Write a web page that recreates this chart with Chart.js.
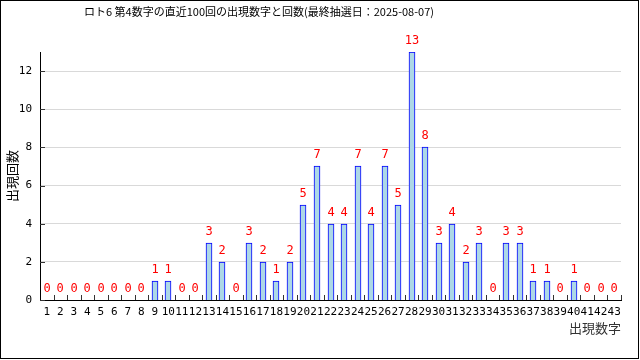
<!DOCTYPE html>
<html>
<head>
<meta charset="utf-8">
<script src="https://cdn.jsdelivr.net/npm/chart.js@4/dist/chart.umd.min.js"></script>
<style>
body { margin: 0; background: #fff; }
</style>
</head>
<body>
<canvas id="chart" width="640" height="360"></canvas>
<script>
// 出現数字 1..43
var numbers = ['1','2','3','4','5','6','7','8','9','10','11','12','13','14','15','16','17','18','19','20','21','22',
               '23','24','25','26','27','28','29','30','31','32','33','34','35','36','37','38','39','40','41','42','43'];
// 出現回数
var counts = [0,0,0,0,0,0,0,0,1,1,0,0,3,2,0,3,2,1,2,5,7,4,
              4,7,4,7,5,13,8,3,4,2,3,0,3,3,1,1,0,1,0,0,0];
var yTicks = [0, 2, 4, 6, 8, 10, 12];
var titleText = 'ロト6 第4数字の直近100回の出現数字と回数(最終抽選日：2025-08-07)';
var monoFont = '"DejaVu Sans Mono", "Noto Sans CJK JP", monospace';
var jpFont = '"Noto Sans CJK JP", "DejaVu Sans", sans-serif';

var framePlugin = {
    id: 'frame',
    beforeDraw: function(chart) {
        var ctx = chart.ctx;
        ctx.save();
        ctx.fillStyle = '#fff';
        ctx.fillRect(0, 0, chart.width, chart.height);
        ctx.restore();
    },
    beforeDatasetsDraw: function(chart) {
        // 棒をピクセル境界に合わせる
        chart.getDatasetMeta(0).data.forEach(function(bar) {
            bar.x = Math.round(bar.x);
            bar.y = Math.round(bar.y);
            bar.base = Math.round(bar.base);
        });
    },
    afterDraw: function(chart) {
        var ctx = chart.ctx;
        var x = chart.scales.x, y = chart.scales.y;
        ctx.save();
        // 外枠
        ctx.strokeStyle = '#000';
        ctx.lineWidth = 1;
        ctx.strokeRect(0.5, 0.5, chart.width - 2, chart.height - 2);
        // タイトル
        ctx.fillStyle = '#000';
        ctx.font = '11px ' + jpFont;
        ctx.textAlign = 'center';
        ctx.textBaseline = 'middle';
        ctx.fillText(titleText, 259, 12);
        // x軸の内向き目盛
        ctx.beginPath();
        for (var i = 1; i <= numbers.length; i++) {
            var px = i < numbers.length
                ? (x.getPixelForValue(i - 1) + x.getPixelForValue(i)) / 2
                : x.right;
            px = Math.round(px) + 0.5;
            ctx.moveTo(px, y.bottom);
            ctx.lineTo(px, y.bottom - 5);
        }
        // y軸の内向き目盛
        yTicks.forEach(function(v) {
            var py = Math.round(y.getPixelForValue(v)) + 0.5;
            ctx.moveTo(x.left, py);
            ctx.lineTo(x.left + 5, py);
        });
        ctx.strokeStyle = '#333';
        ctx.stroke();
        ctx.restore();
    },
    afterDatasetsDraw: function(chart) {
        var ctx = chart.ctx;
        var meta = chart.getDatasetMeta(0);
        ctx.save();
        ctx.fillStyle = '#ff0000';
        ctx.font = '12px ' + monoFont;
        ctx.textAlign = 'center';
        ctx.textBaseline = 'bottom';
        meta.data.forEach(function(bar, i) {
            ctx.fillText(String(counts[i]), bar.x, bar.y - 5);
        });
        ctx.restore();
    }
};

new Chart(document.getElementById('chart'), {
    type: 'bar',
    data: {
        labels: numbers,
        datasets: [{
            data: counts,
            backgroundColor: '#add8e6',
            borderColor: '#0000ff',
            borderWidth: 1,
            barThickness: 6
        }]
    },
    options: {
        responsive: false,
        animation: false,
        devicePixelRatio: 1,
        layout: { padding: { top: 52, right: 19, left: 0, bottom: 22 } },
        plugins: {
            legend: { display: false },
            tooltip: { enabled: false },
            title: { display: false }
        },
        scales: {
            x: {
                offset: true,
                grid: { display: false, drawTicks: false, tickLength: 0 },
                border: { display: true, color: '#000', width: 1 },
                ticks: {
                    color: '#000',
                    font: { size: 11, family: monoFont },
                    padding: 6,
                    maxRotation: 0,
                    autoSkip: false
                },
                title: {
                    display: true,
                    text: '出現数字',
                    align: 'end',
                    color: '#333',
                    font: { size: 13, family: jpFont },
                    padding: 2
                },
                afterFit: function(scale) { scale.height = 38; }
            },
            y: {
                min: 0,
                max: 13,
                grid: { color: '#d9d9d9', drawTicks: false },
                border: { display: true, color: '#000', width: 1 },
                ticks: {
                    stepSize: 2,
                    color: '#000',
                    font: { size: 11, family: monoFont },
                    padding: 8
                },
                afterBuildTicks: function(scale) {
                    scale.ticks = yTicks.map(function(v) { return { value: v }; });
                },
                title: {
                    display: true,
                    text: '出現回数',
                    color: '#000',
                    font: { size: 13, family: jpFont },
                    padding: 4
                },
                afterFit: function(scale) { scale.width = 40; }
            }
        }
    },
    plugins: [framePlugin]
});
</script>
</body>
</html>
